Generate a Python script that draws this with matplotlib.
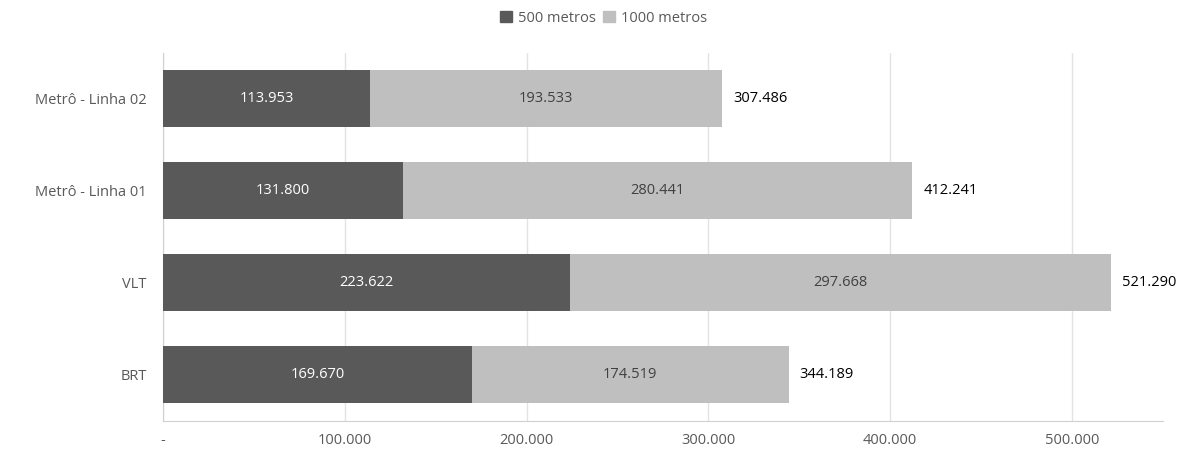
import matplotlib.pyplot as plt
from matplotlib.patches import Patch

plt.rcParams['font.family'] = ['Open Sans', 'DejaVu Sans']

categorias = ['BRT', 'VLT', 'Metrô - Linha 01', 'Metrô - Linha 02']
metros_500 = [169670, 223622, 131800, 113953]
metros_1000 = [174519, 297668, 280441, 193533]
totais = [344189, 521290, 412241, 307486]


def fmt(v):
    return f'{v:,.0f}'.replace(',', '.')


cor_escura = '#595959'
cor_clara = '#bfbfbf'

fig = plt.figure(figsize=(12, 4.55), dpi=100)
ax = fig.add_axes([0.136, 0.075, 0.833, 0.809])

y = range(len(categorias))
ax.barh(y, metros_500, height=0.62, color=cor_escura, zorder=3)
ax.barh(y, metros_1000, left=metros_500, height=0.62, color=cor_clara, zorder=3)

for i in y:
    ax.text(metros_500[i] / 2, i, fmt(metros_500[i]), ha='center', va='center',
            color='white', fontsize=10.5, zorder=4)
    ax.text(metros_500[i] + metros_1000[i] / 2, i, fmt(metros_1000[i]),
            ha='center', va='center', color='#404040', fontsize=10.5, zorder=4)
    ax.text(totais[i] + 6000, i, fmt(totais[i]), ha='left', va='center',
            color='black', fontsize=10.5, zorder=4)

ax.set_xlim(0, 550000)
ax.set_ylim(-0.5, 3.5)
ax.set_yticks(list(y))
ax.set_yticklabels(categorias)
ax.set_xticks([0, 100000, 200000, 300000, 400000, 500000])
ax.set_xticklabels(['-'] + [fmt(v) for v in [100000, 200000, 300000, 400000, 500000]])
ax.tick_params(axis='both', length=0, colors='#595959', labelsize=10.5)
ax.tick_params(axis='y', pad=12)
ax.tick_params(axis='x', pad=9)

ax.grid(axis='x', color='#e3e3e3', linewidth=1, zorder=0)
for lado in ['top', 'right']:
    ax.spines[lado].set_visible(False)
for lado in ['left', 'bottom']:
    ax.spines[lado].set_color('#d0d0d0')

fig.legend(handles=[Patch(color=cor_escura, label='500 metros'),
                    Patch(color=cor_clara, label='1000 metros')],
           loc='upper center', bbox_to_anchor=(0.503, 1.005), ncol=2, frameon=False,
           fontsize=10.5, handlelength=0.8, handleheight=0.8, handletextpad=0.4,
           columnspacing=0.5, labelcolor='#595959')

fig.savefig('out.png', dpi=100)
